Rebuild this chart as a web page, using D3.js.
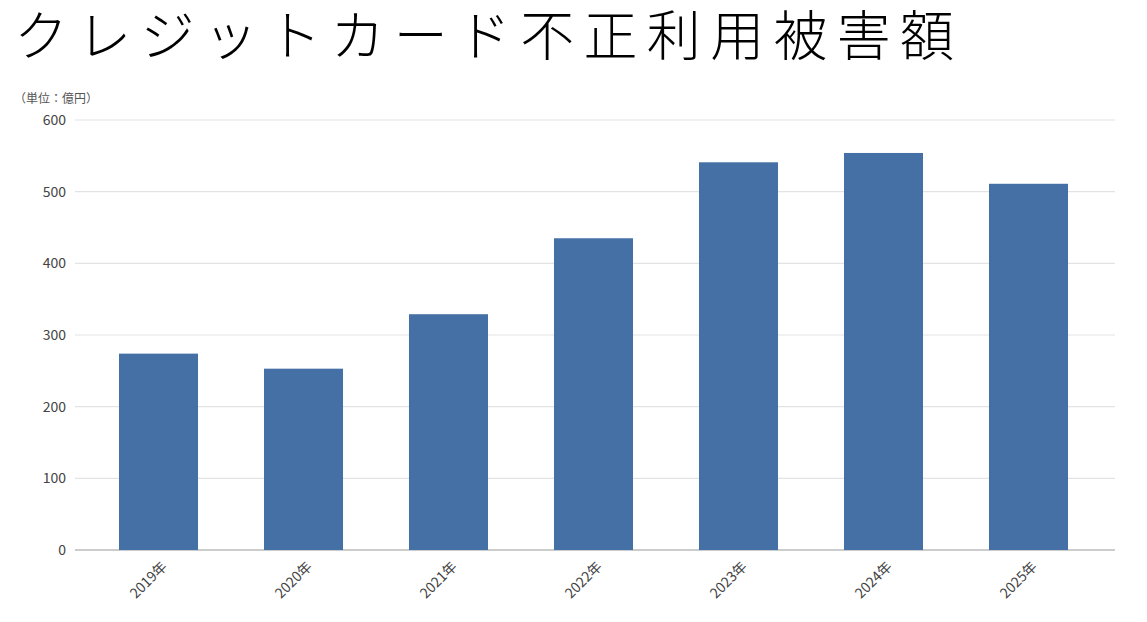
<!DOCTYPE html>
<html><head><meta charset="utf-8">
<script src="https://cdn.jsdelivr.net/npm/d3@7"></script>
<style>body{margin:0;background:#fff}</style></head>
<body><svg id="c" width="1147" height="622"></svg>
<script>
const categories=["2019年","2020年","2021年","2022年","2023年","2024年","2025年"];
const values=[274,253,329,435,541,554,511];
const yTicks=[0,100,200,300,400,500,600];
const title="クレジットカード不正利用被害額";
const unit="（単位：億円）";

const svg=d3.select("#c");
const x=d3.scaleBand().domain(categories).range([86,1101]).paddingInner(0.455).paddingOuter(0.2275);
const y=d3.scaleLinear().domain([0,600]).range([550,120]);

svg.append("text").attr("x",14).attr("y",56).attr("font-family","Noto Sans CJK JP").attr("font-weight",300)
 .attr("font-size",54).attr("textLength",940).attr("lengthAdjust","spacing").attr("fill","#000").text(title);
svg.append("text").attr("x",14).attr("y",103).attr("font-family","Noto Sans CJK JP").attr("font-size",12).attr("fill","#555").text(unit);

const g=svg.append("g");
yTicks.forEach(t=>{
 g.append("line").attr("x1",75).attr("x2",1115).attr("y1",y(t)).attr("y2",y(t))
  .attr("stroke",t===0?"#ccc":"#e3e3e3").attr("stroke-width",t===0?2:1.2);
 g.append("text").attr("x",66).attr("y",y(t)).attr("dy","0.35em").attr("text-anchor","end")
  .attr("font-family","Noto Sans CJK JP").attr("font-size",14).attr("fill","#444").text(t);
});
svg.selectAll("rect.b").data(values).join("rect").attr("class","b")
 .attr("x",(d,i)=>x(categories[i])).attr("width",x.bandwidth())
 .attr("y",d=>y(d)).attr("height",d=>y(0)-y(d)).attr("fill","#4470a5");
categories.forEach(c=>{
 const cx=x(c)+x.bandwidth()/2+6;
 svg.append("text").attr("transform",`translate(${cx},${564}) rotate(-45)`).attr("text-anchor","end")
  .attr("dy","0.35em").attr("font-family","Noto Sans CJK JP").attr("font-size",14).attr("fill","#444").text(c);
});
</script></body></html>
